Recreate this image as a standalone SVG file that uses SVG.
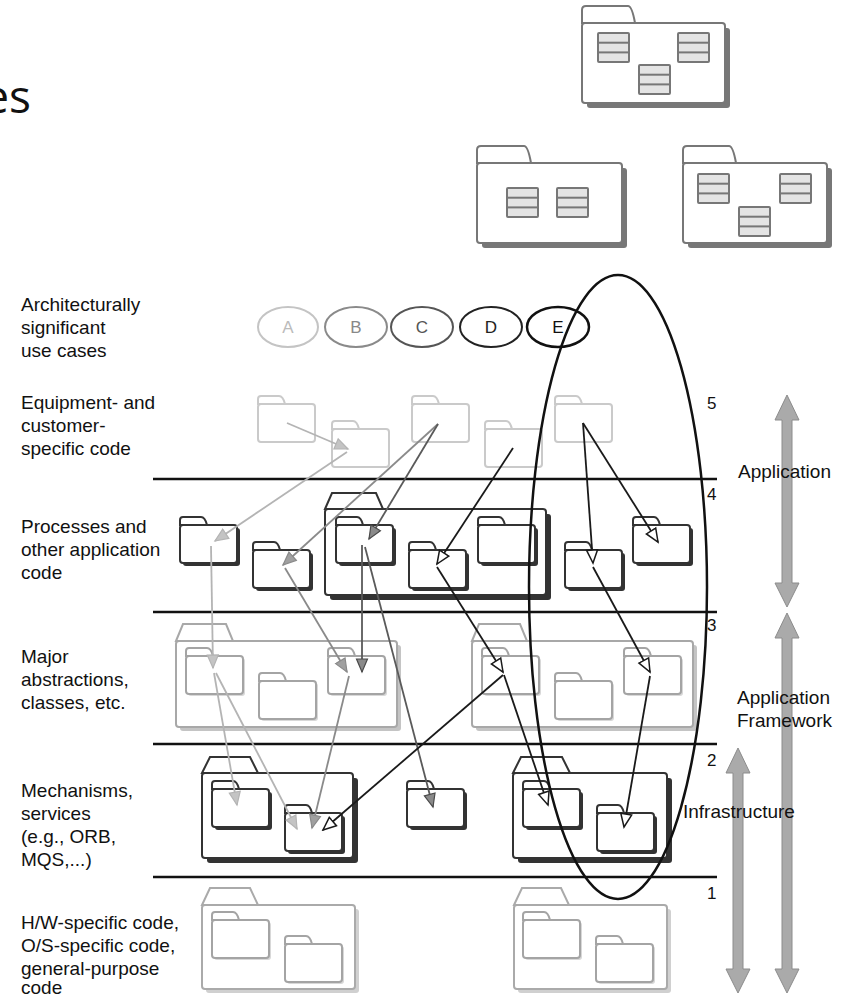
<svg xmlns="http://www.w3.org/2000/svg" xmlns:xlink="http://www.w3.org/1999/xlink" width="843" height="997" viewBox="0 0 843 997">
<style>
.lbl{font-family:"Liberation Sans",Arial,sans-serif;font-size:19px;fill:#111}
.num{font-family:"Liberation Sans",Arial,sans-serif;font-size:17px;fill:#111}
.uc{font-family:"Liberation Sans",Arial,sans-serif;font-size:17px;text-anchor:middle}
.sep{stroke:#111;stroke-width:2.5}
.lg{stroke:#b4b4b4;stroke-width:1.8;fill:none}
.mg{stroke:#8a8a8a;stroke-width:1.8;fill:none}
.dg{stroke:#5a5a5a;stroke-width:1.8;fill:none}
.bk{stroke:#1a1a1a;stroke-width:1.8;fill:none}
.cls rect{fill:#e4e4e4;stroke:#777;stroke-width:2}
.garrow{fill:#aaa;stroke:#8c8c8c;stroke-width:1}
</style>
<defs>
<marker id="mLg" markerUnits="userSpaceOnUse" markerWidth="16" markerHeight="14" refX="14" refY="7" orient="auto"><path d="M1,1.5 L14,7 L1,12.5 Z" fill="#c4c4c4" stroke="#b4b4b4" stroke-width="1.2"/></marker>
<marker id="mMg" markerUnits="userSpaceOnUse" markerWidth="16" markerHeight="14" refX="14" refY="7" orient="auto"><path d="M1,1.5 L14,7 L1,12.5 Z" fill="#a0a0a0" stroke="#8a8a8a" stroke-width="1.2"/></marker>
<marker id="mDg" markerUnits="userSpaceOnUse" markerWidth="16" markerHeight="14" refX="14" refY="7" orient="auto"><path d="M1,1.5 L14,7 L1,12.5 Z" fill="#8a8a8a" stroke="#4a4a4a" stroke-width="1.2"/></marker>
<marker id="mBk" markerUnits="userSpaceOnUse" markerWidth="16" markerHeight="14" refX="14" refY="7" orient="auto"><path d="M1,1.5 L14,7 L1,12.5 Z" fill="#fff" stroke="#1a1a1a" stroke-width="1.5"/></marker>
<g id="sf5">
<path d="M0,0 L0,-5 Q0,-8 3,-8 L21,-8 Q25,-8 27,0 Z" fill="#fff" stroke="#cacaca" stroke-width="2"/>
<rect x="0" y="0" width="57" height="38" rx="3" fill="#fff" stroke="#cacaca" stroke-width="2"/>
</g>
<g id="sfD">
<rect x="3" y="3" width="57" height="38" rx="3" fill="#333"/>
<path d="M0,0 L0,-5 Q0,-8 3,-8 L21,-8 Q25,-8 27,0 Z" fill="#fff" stroke="#333" stroke-width="2"/>
<rect x="0" y="0" width="57" height="38" rx="3" fill="#fff" stroke="#333" stroke-width="2"/>
</g>
<g id="sfL">
<rect x="2" y="2" width="57" height="38" rx="3" fill="#d8d8d8"/>
<path d="M0,0 L0,-5 Q0,-8 3,-8 L21,-8 Q25,-8 27,0 Z" fill="#fff" stroke="#a4a4a4" stroke-width="2"/>
<rect x="0" y="0" width="57" height="38" rx="3" fill="#fff" stroke="#a4a4a4" stroke-width="2"/>
</g>
<g id="cl" class="cls">
<rect x="0" y="0" width="31" height="29" rx="1"/>
<rect x="0" y="9.7" width="31" height="9.7"/>
</g>
</defs>

<text x="31" y="113" font-family="'Open Sans','Noto Sans',sans-serif" font-size="46" fill="#111" text-anchor="end">es</text>

<!-- top packages -->
<g id="pkgTop">
<rect x="587" y="28" width="143" height="80" rx="3" fill="#777"/>
<path d="M582,23 L582,10 Q582,6 586,6 L628,6 Q632,6 635,23 Z" fill="#fff" stroke="#777" stroke-width="2"/>
<rect x="582" y="23" width="143" height="80" rx="3" fill="#fff" stroke="#777" stroke-width="2"/>
<use xlink:href="#cl" href="#cl" x="598" y="33"/>
<use xlink:href="#cl" href="#cl" x="678" y="33"/>
<use xlink:href="#cl" href="#cl" x="639" y="65"/>
</g>
<g id="pkgLeft">
<rect x="482" y="168" width="145" height="80" rx="3" fill="#777"/>
<path d="M477,163 L477,150 Q477,146 481,146 L524,146 Q528,146 531,163 Z" fill="#fff" stroke="#777" stroke-width="2"/>
<rect x="477" y="163" width="145" height="80" rx="3" fill="#fff" stroke="#777" stroke-width="2"/>
<use xlink:href="#cl" href="#cl" x="507" y="188"/>
<use xlink:href="#cl" href="#cl" x="557" y="188"/>
</g>
<g id="pkgRight">
<rect x="688" y="168" width="144" height="80" rx="3" fill="#777"/>
<path d="M683,163 L683,150 Q683,146 687,146 L729,146 Q733,146 736,163 Z" fill="#fff" stroke="#777" stroke-width="2"/>
<rect x="683" y="163" width="144" height="80" rx="3" fill="#fff" stroke="#777" stroke-width="2"/>
<use xlink:href="#cl" href="#cl" x="698" y="174"/>
<use xlink:href="#cl" href="#cl" x="780" y="174"/>
<use xlink:href="#cl" href="#cl" x="739" y="207"/>
</g>

<!-- left labels -->
<g id="labels">
<text class="lbl" x="21" y="311">Architecturally</text>
<text class="lbl" x="21" y="334">significant</text>
<text class="lbl" x="21" y="357">use cases</text>
<text class="lbl" x="21" y="409">Equipment- and</text>
<text class="lbl" x="21" y="432">customer-</text>
<text class="lbl" x="21" y="455">specific code</text>
<text class="lbl" x="21" y="533">Processes and</text>
<text class="lbl" x="21" y="556">other application</text>
<text class="lbl" x="21" y="579">code</text>
<text class="lbl" x="21" y="663">Major</text>
<text class="lbl" x="21" y="686">abstractions,</text>
<text class="lbl" x="21" y="709">classes, etc.</text>
<text class="lbl" x="21" y="797">Mechanisms,</text>
<text class="lbl" x="21" y="820">services</text>
<text class="lbl" x="21" y="843">(e.g., ORB,</text>
<text class="lbl" x="21" y="866">MQS,...)</text>
<text class="lbl" x="21" y="929">H/W-specific code,</text>
<text class="lbl" x="21" y="952">O/S-specific code,</text>
<text class="lbl" x="21" y="975">general-purpose</text>
<text class="lbl" x="21" y="994">code</text>
</g>

<!-- use cases -->
<g id="ucA"><ellipse cx="288" cy="327" rx="30" ry="20" fill="none" stroke="#c4c4c4" stroke-width="2"/><text class="uc" x="288" y="333" fill="#bbb">A</text></g>
<g id="ucB"><ellipse cx="356" cy="327" rx="31" ry="20" fill="none" stroke="#8a8a8a" stroke-width="2"/><text class="uc" x="356" y="333" fill="#888">B</text></g>
<g id="ucC"><ellipse cx="422" cy="327" rx="31" ry="20" fill="none" stroke="#555" stroke-width="2"/><text class="uc" x="422" y="333" fill="#555">C</text></g>
<g id="ucD"><ellipse cx="491" cy="327" rx="31" ry="20" fill="none" stroke="#222" stroke-width="2"/><text class="uc" x="491" y="333" fill="#222">D</text></g>
<g id="ucE"><ellipse cx="558" cy="327" rx="31" ry="20" fill="none" stroke="#111" stroke-width="2.5"/><text class="uc" x="558" y="333" fill="#111">E</text></g>

<!-- separators -->
<g id="separators">
<line class="sep" x1="153" y1="479" x2="717" y2="479"/>
<line class="sep" x1="153" y1="612" x2="717" y2="612"/>
<line class="sep" x1="153" y1="744" x2="717" y2="744"/>
<line class="sep" x1="153" y1="877" x2="717" y2="877"/>
<text class="num" x="707" y="409">5</text>
<text class="num" x="707" y="500">4</text>
<text class="num" x="707" y="631">3</text>
<text class="num" x="707" y="766">2</text>
<text class="num" x="707" y="899">1</text>
</g>

<!-- layer 5 -->
<g id="F5a"><use xlink:href="#sf5" href="#sf5" x="258" y="404"/></g>
<g id="F5b"><use xlink:href="#sf5" href="#sf5" x="332" y="429"/></g>
<g id="F5c"><use xlink:href="#sf5" href="#sf5" x="412" y="404"/></g>
<g id="F5d"><use xlink:href="#sf5" href="#sf5" x="485" y="429"/></g>
<g id="F5e"><use xlink:href="#sf5" href="#sf5" x="555" y="404"/></g>

<!-- layer 4 -->
<g id="F4a"><use xlink:href="#sfD" href="#sfD" x="180" y="525"/></g>
<g id="F4b"><use xlink:href="#sfD" href="#sfD" x="253" y="550"/></g>
<g id="L4">
<rect x="330" y="514" width="221" height="86" rx="3" fill="#333"/>
<path d="M325,509 L332,493 L376,493 L383,509 Z" fill="#fff" stroke="#333" stroke-width="2"/>
<rect x="325" y="509" width="221" height="86" rx="3" fill="#fff" stroke="#333" stroke-width="2"/>
</g>
<g id="F4c"><use xlink:href="#sfD" href="#sfD" x="336" y="525"/></g>
<g id="F4d"><use xlink:href="#sfD" href="#sfD" x="409" y="550"/></g>
<g id="F4e"><use xlink:href="#sfD" href="#sfD" x="478" y="525"/></g>
<g id="F4f"><use xlink:href="#sfD" href="#sfD" x="565" y="550"/></g>
<g id="F4g"><use xlink:href="#sfD" href="#sfD" x="633" y="525"/></g>

<!-- layer 3 -->
<g id="L3a">
<rect x="180" y="645" width="221" height="86" rx="3" fill="#c4c4c4"/>
<path d="M176,641 L183,624 L226,624 L233,641 Z" fill="#fff" stroke="#a8a8a8" stroke-width="2"/>
<rect x="176" y="641" width="221" height="86" rx="3" fill="#fff" stroke="#a8a8a8" stroke-width="2"/>
</g>
<g id="F3a"><use xlink:href="#sfL" href="#sfL" x="186" y="656"/></g>
<g id="F3c"><use xlink:href="#sfL" href="#sfL" x="259" y="681"/></g>
<g id="F3b"><use xlink:href="#sfL" href="#sfL" x="328" y="656"/></g>
<g id="L3b">
<rect x="476" y="645" width="221" height="86" rx="3" fill="#c4c4c4"/>
<path d="M472,641 L479,624 L520,624 L527,641 Z" fill="#fff" stroke="#a8a8a8" stroke-width="2"/>
<rect x="472" y="641" width="221" height="86" rx="3" fill="#fff" stroke="#a8a8a8" stroke-width="2"/>
</g>
<g id="F3d"><use xlink:href="#sfL" href="#sfL" x="482" y="656"/></g>
<g id="F3e"><use xlink:href="#sfL" href="#sfL" x="555" y="681"/></g>
<g id="F3f"><use xlink:href="#sfL" href="#sfL" x="624" y="656"/></g>

<!-- layer 2 -->
<g id="L2a">
<rect x="207" y="778" width="151" height="85" rx="3" fill="#333"/>
<path d="M202,773 L210,757 L250,757 L258,773 Z" fill="#fff" stroke="#333" stroke-width="2"/>
<rect x="202" y="773" width="151" height="85" rx="3" fill="#fff" stroke="#333" stroke-width="2"/>
</g>
<g id="F2a"><use xlink:href="#sfD" href="#sfD" x="212" y="789"/></g>
<g id="F2b"><use xlink:href="#sfD" href="#sfD" x="285" y="813"/></g>
<g id="F2c"><use xlink:href="#sfD" href="#sfD" x="407" y="789"/></g>
<g id="L2b">
<rect x="518" y="778" width="154" height="85" rx="3" fill="#333"/>
<path d="M513,773 L521,757 L562,757 L570,773 Z" fill="#fff" stroke="#333" stroke-width="2"/>
<rect x="513" y="773" width="154" height="85" rx="3" fill="#fff" stroke="#333" stroke-width="2"/>
</g>
<g id="F2d"><use xlink:href="#sfD" href="#sfD" x="523" y="789"/></g>
<g id="F2e"><use xlink:href="#sfD" href="#sfD" x="597" y="813"/></g>

<!-- layer 1 -->
<g id="L1a">
<rect x="206" y="909" width="153" height="84" rx="3" fill="#d0d0d0"/>
<path d="M202,905 L210,888 L250,888 L258,905 Z" fill="#fff" stroke="#aaa" stroke-width="2"/>
<rect x="202" y="905" width="153" height="84" rx="3" fill="#fff" stroke="#aaa" stroke-width="2"/>
<use xlink:href="#sfL" href="#sfL" x="212" y="920"/>
<use xlink:href="#sfL" href="#sfL" x="285" y="944"/>
</g>
<g id="L1b">
<rect x="518" y="909" width="153" height="84" rx="3" fill="#d0d0d0"/>
<path d="M514,905 L522,888 L561,888 L569,905 Z" fill="#fff" stroke="#aaa" stroke-width="2"/>
<rect x="514" y="905" width="153" height="84" rx="3" fill="#fff" stroke="#aaa" stroke-width="2"/>
<use xlink:href="#sfL" href="#sfL" x="523" y="920"/>
<use xlink:href="#sfL" href="#sfL" x="596" y="944"/>
</g>

<!-- connectors -->
<g id="connectors">
<line class="lg" x1="287" y1="423" x2="348" y2="449" marker-end="url(#mLg)"/>
<line class="lg" x1="347" y1="452" x2="215" y2="541" marker-end="url(#mLg)"/>
<line class="lg" x1="211" y1="546" x2="213" y2="668" marker-end="url(#mLg)"/>
<line class="lg" x1="214" y1="673" x2="237" y2="805" marker-end="url(#mLg)"/>
<line class="lg" x1="216" y1="673" x2="297" y2="829" marker-end="url(#mLg)"/>
<line class="mg" x1="438" y1="424" x2="283" y2="565" marker-end="url(#mMg)"/>
<line class="mg" x1="285" y1="568" x2="347" y2="672" marker-end="url(#mMg)"/>
<line class="mg" x1="349" y1="676" x2="312" y2="828" marker-end="url(#mMg)"/>
<line class="dg" x1="438" y1="424" x2="369" y2="539" marker-end="url(#mDg)"/>
<line class="dg" x1="362" y1="545" x2="362" y2="672" marker-end="url(#mDg)"/>
<line class="dg" x1="365" y1="547" x2="433" y2="807" marker-end="url(#mDg)"/>
<line class="bk" x1="513" y1="448" x2="437" y2="564" marker-end="url(#mBk)"/>
<line class="bk" x1="437" y1="567" x2="503" y2="672" marker-end="url(#mBk)"/>
<line class="bk" x1="503" y1="675" x2="323" y2="830" marker-end="url(#mBk)"/>
<line class="bk" x1="504" y1="675" x2="548" y2="805" marker-end="url(#mBk)"/>
<line class="bk" x1="583" y1="423" x2="593" y2="563" marker-end="url(#mBk)"/>
<line class="bk" x1="583" y1="423" x2="658" y2="542" marker-end="url(#mBk)"/>
<line class="bk" x1="593" y1="567" x2="650" y2="672" marker-end="url(#mBk)"/>
<line class="bk" x1="650" y1="676" x2="624" y2="827" marker-end="url(#mBk)"/>
</g>

<!-- big ellipse -->
<g id="sliceE"><ellipse cx="618" cy="587" rx="89" ry="312" fill="none" stroke="#111" stroke-width="2.5"/></g>

<!-- right double arrows -->
<g id="arrApplication">
<path class="garrow" d="M787,395 L799,420 L792,420 L792,583 L799,583 L787,607 L775,583 L782,583 L782,420 L775,420 Z"/>
</g>
<g id="arrFramework">
<path class="garrow" d="M787,613 L799,638 L792,638 L792,969 L799,969 L787,993 L775,969 L782,969 L782,638 L775,638 Z"/>
</g>
<g id="arrInfrastructure">
<path class="garrow" d="M738,748 L750,773 L743,773 L743,969 L750,969 L738,993 L726,969 L733,969 L733,773 L726,773 Z"/>
</g>
<g id="rightLabels">
<text class="lbl" x="738" y="478">Application</text>
<text class="lbl" x="737" y="704">Application</text>
<text class="lbl" x="737" y="727">Framework</text>
<text class="lbl" x="683" y="818">Infrastructure</text>
</g>
</svg>
